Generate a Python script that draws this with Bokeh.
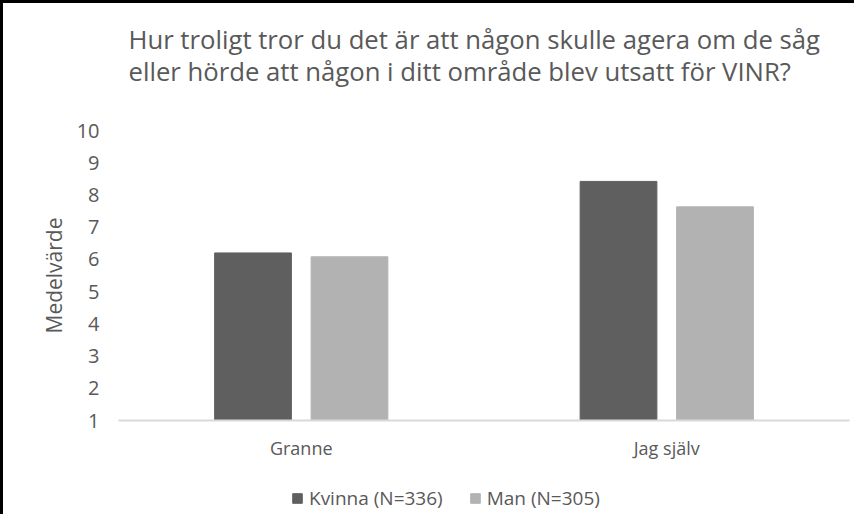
from bokeh.plotting import figure
from bokeh.layouts import column
from bokeh.models import ColumnDataSource, Range1d, FactorRange, Title, Legend, LegendItem, FixedTicker
from bokeh.transform import dodge
from bokeh.embed import file_html
from bokeh.resources import INLINE

categories = ["Granne", "Jag själv"]
kvinna = [6.2, 8.42]
man = [6.08, 7.63]
series_labels = ["Kvinna (N=336)", "Man (N=305)"]
series_colors = ["#5f5f5f", "#b2b2b2"]
y_ticks = [1, 2, 3, 4, 5, 6, 7, 8, 9, 10]
title_text = ("Hur troligt tror du det är att någon skulle agera om de såg\n"
              "eller hörde att någon i ditt område blev utsatt för VINR?")
y_label = "Medelvärde"

FONT = "Open Sans"
TXT = "#595959"

src = ColumnDataSource(dict(cat=categories, kvinna=kvinna, man=man))

# ---- main chart ----
p = figure(width=854, height=465, x_range=FactorRange(*categories, range_padding=0),
           y_range=Range1d(1, 10), output_backend="svg", toolbar_location=None,
           title=None, min_border_left=115, min_border_right=8,
           min_border_top=127, min_border_bottom=48)
p.styles = {"border-left": "3px solid black", "border-top": "3px solid black"}

p.vbar(x=dodge("cat", -0.132, range=p.x_range), top="kvinna", bottom=1, width=0.21,
       source=src, fill_color=series_colors[0], line_color=series_colors[0])
p.vbar(x=dodge("cat", 0.132, range=p.x_range), top="man", bottom=1, width=0.21,
       source=src, fill_color=series_colors[1], line_color=series_colors[1])

# spacer between title and plot area
p.add_layout(Title(text=" ", text_font_size="10px", standoff=28), "above")
p.add_layout(Title(text=title_text, align="left", offset=10, text_font=FONT,
                   text_font_size="25.7px", text_line_height=0.93,
                   text_color=TXT, text_font_style="normal", standoff=0), "above")

p.xgrid.visible = False
p.ygrid.visible = False
p.outline_line_color = None

p.yaxis.ticker = FixedTicker(ticks=y_ticks)
p.yaxis.axis_line_color = None
p.yaxis.major_tick_line_color = None
p.yaxis.minor_tick_line_color = None
p.yaxis.major_tick_out = 0
p.yaxis.minor_tick_out = 0
p.yaxis.major_label_text_font = FONT
p.yaxis.major_label_text_font_size = "20px"
p.yaxis.major_label_text_color = TXT
p.yaxis.major_label_standoff = 19
p.yaxis.axis_label = y_label
p.yaxis.axis_label_text_font = FONT
p.yaxis.axis_label_text_font_size = "21px"
p.yaxis.axis_label_text_font_style = "normal"
p.yaxis.axis_label_text_color = TXT
p.yaxis.axis_label_standoff = 6

p.xaxis.axis_line_color = "#d9d9d9"
p.xaxis.axis_line_width = 2
p.xaxis.major_tick_line_color = None
p.xaxis.minor_tick_line_color = None
p.xaxis.major_tick_out = 0
p.xaxis.minor_tick_out = 0
p.xaxis.major_label_text_font = FONT
p.xaxis.major_label_text_font_size = "18px"
p.xaxis.major_label_text_color = TXT
p.xaxis.major_label_standoff = 15

# ---- legend strip ----
lg = figure(width=854, height=49, output_backend="svg", toolbar_location=None,
            title=None, x_axis_type=None, y_axis_type=None,
            x_range=Range1d(0, 1), y_range=Range1d(0, 1),
            min_border_left=0, min_border_right=0, min_border_top=0, min_border_bottom=0)
lg.styles = {"border-left": "3px solid black"}
lg.xgrid.visible = False
lg.ygrid.visible = False
lg.outline_line_color = None
# legend key proxies, kept outside the visible range
k_r = lg.vbar(x=[-5], top=[-5], bottom=-6, width=0.5,
              fill_color=series_colors[0], line_color=series_colors[0])
m_r = lg.vbar(x=[-5], top=[-5], bottom=-6, width=0.5,
              fill_color=series_colors[1], line_color=series_colors[1])

legend = Legend(items=[LegendItem(label=series_labels[0], renderers=[k_r]),
                       LegendItem(label=series_labels[1], renderers=[m_r])],
                orientation="horizontal", location=(173, 3),
                label_text_font=FONT, label_text_font_size="19px", label_text_color=TXT,
                glyph_width=12, glyph_height=12, label_standoff=6, spacing=26,
                border_line_color=None, background_fill_alpha=0, padding=4, margin=0)
lg.add_layout(legend, "center")

layout = column(p, lg, spacing=0)
open("out.html", "w").write(file_html(layout, INLINE))
